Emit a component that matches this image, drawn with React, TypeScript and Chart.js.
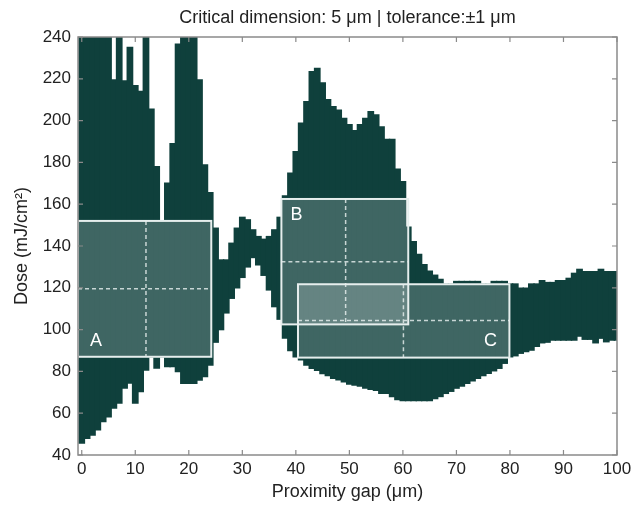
import { useEffect, useRef } from "react";
import { Chart, registerables } from "chart.js";

Chart.register(...registerables);

// Proximity gap (µm) – one column per micrometre
const proximityGap = [
  0, 1, 2, 3, 4, 5, 6, 7, 8, 9, 10, 11, 12, 13, 14, 15, 16, 17, 18, 19, 20,
  21, 22, 23, 24, 25, 26, 27, 28, 29, 30, 31, 32, 33, 34, 35, 36, 37, 38, 39, 40,
  41, 42, 43, 44, 45, 46, 47, 48, 49, 50, 51, 52, 53, 54, 55, 56, 57, 58, 59, 60,
  61, 62, 63, 64, 65, 66, 67, 68, 69, 70, 71, 72, 73, 74, 75, 76, 77, 78, 79, 80,
  81, 82, 83, 84, 85, 86, 87, 88, 89, 90, 91, 92, 93, 94, 95, 96, 97, 98, 99, 100,
];

// Lower dose limit of the process window (mJ/cm²)
const doseLower = [
  45.7, 48, 49.6, 52, 56, 58.3, 62.5, 64.9, 72, 74.4, 64.9, 70.3, 80.7, 87, 81.6, 87, 82.3, 82.3, 79.9, 74.3, 74.3,
  74.3, 75.9, 77.5, 83, 94, 100, 108, 115, 120, 125, 130, 134.5, 131, 126, 119, 111, 105, 96, 90, 87,
  85.5, 83, 81.5, 80.5, 79, 78, 76.7, 76, 75, 74, 73.5, 73, 72, 71.4, 71, 69.5, 69.5, 68, 66.5, 66,
  66, 66, 66, 66, 66, 67, 68, 69.5, 70.5, 72, 73, 74.3, 75.5, 76.7, 78, 79.1, 80.3, 81.5, 83.9, 87,
  87.5, 88.7, 89.5, 90.2, 92, 93.7, 94, 95, 95, 95, 95, 95, 96.9, 95.4, 95.4, 93.7, 95.9, 94.2, 95, 95,
];

// Upper dose limit of the process window (mJ/cm²)
const doseUpper = [
  245, 245, 245, 245, 245, 245, 219.4, 245, 219, 235, 216.7, 214, 245, 205.4, 178, 152, 170, 189, 236.6, 245, 245,
  245, 219.4, 178.8, 165.5, 148.5, 133.3, 133.3, 141.3, 148.5, 153.7, 152.5, 147.7, 144.5, 143.2, 144.5, 147.7, 153.7, 164, 174.8, 185.1,
  198.7, 209, 223.4, 225, 218, 210, 206.7, 205, 201, 198, 195.2, 198, 201, 204.3, 202.7, 197, 191, 191, 176.7, 170.8,
  149, 142, 136, 131, 128, 126, 124, 121.7, 121.7, 123, 123, 123, 123, 123, 121.7, 121.7, 123, 123, 123, 121.8,
  121.8, 119.8, 119.8, 121.8, 121.8, 123.4, 122.5, 122.5, 123.4, 123.4, 124.5, 126.9, 128.8, 127.7, 127.7, 127.7, 128.8, 127.7, 127.7, 127.7,
];

const xTickValues = [0, 10, 20, 30, 40, 50, 60, 70, 80, 90, 100];
const yTickValues = [40, 60, 80, 100, 120, 140, 160, 180, 200, 220, 240];

// Process windows A, B, C
const windowNames = ["A", "B", "C"];
const windowXMin = [-0.7, 37.3, 40.4];
const windowXMax = [24.2, 61.0, 79.9];
const windowXCenter = [12.0, 49.3, 60.1];
const windowYMin = [87, 102.5, 86.6];
const windowYMax = [152, 162.5, 121.7];
const windowYCenter = [119.5, 132.5, 104.4];

const FONT = "'Liberation Sans', Arial, Helvetica, sans-serif";
const TEXT = "#222222";
const FILL = "#0f403c";

// label placement style: corner of each window
const labelCorner = ["bottom-left", "top-left", "bottom-right"];

const overlayPlugin = {
  id: "overlay",
  afterDatasetsDraw(chart: any) {
    const { ctx, chartArea, scales } = chart;
    const xs = scales.x;
    const ys = scales.y;
    ctx.save();
    ctx.beginPath();
    ctx.rect(chartArea.left, chartArea.top, chartArea.right - chartArea.left, chartArea.bottom - chartArea.top);
    ctx.clip();
    const boxes = windowNames.map((_, i) => {
      const l = xs.getPixelForValue(windowXMin[i]);
      const r = xs.getPixelForValue(windowXMax[i]);
      const t = ys.getPixelForValue(windowYMax[i]);
      const b = ys.getPixelForValue(windowYMin[i]);
      const cx = xs.getPixelForValue(windowXCenter[i]);
      const cy = ys.getPixelForValue(windowYCenter[i]);
      return { l, r, t, b, cx, cy };
    });
    boxes.forEach((bx) => {
      ctx.fillStyle = "rgba(255,255,255,0.2)";
      ctx.fillRect(bx.l, bx.t, bx.r - bx.l, bx.b - bx.t);
    });
    boxes.forEach((bx) => {
      ctx.strokeStyle = "rgba(235,242,241,0.8)";
      ctx.lineWidth = 1.5;
      ctx.setLineDash([4, 3]);
      ctx.beginPath();
      ctx.moveTo(bx.cx, bx.t);
      ctx.lineTo(bx.cx, bx.b);
      ctx.moveTo(bx.l, bx.cy);
      ctx.lineTo(bx.r, bx.cy);
      ctx.stroke();
    });
    ctx.setLineDash([]);
    boxes.forEach((bx) => {
      ctx.strokeStyle = "#e6eeed";
      ctx.lineWidth = 2;
      ctx.strokeRect(bx.l, bx.t, bx.r - bx.l, bx.b - bx.t);
    });
    ctx.fillStyle = "#ffffff";
    ctx.font = `18px ${FONT}`;
    ctx.textAlign = "center";
    ctx.textBaseline = "middle";
    boxes.forEach((bx, i) => {
      const c = labelCorner[i];
      let x = bx.l + 18;
      let y = bx.b - 16;
      if (c === "top-left") {
        x = bx.l + 15;
        y = bx.t + 16;
      } else if (c === "bottom-right") {
        x = bx.r - 19;
        y = bx.b - 17;
      }
      ctx.fillText(windowNames[i], x, y);
    });
    ctx.restore();
  },
  afterDraw(chart: any) {
    const { ctx, chartArea, scales } = chart;
    const { left, right, top, bottom } = chartArea;
    ctx.save();
    ctx.strokeStyle = "#8a8a8a";
    ctx.lineWidth = 1.5;
    ctx.strokeRect(left, top, right - left, bottom - top);
    ctx.lineWidth = 1.2;
    const tl = 5;
    ctx.beginPath();
    xTickValues.forEach((v) => {
      const px = scales.x.getPixelForValue(v);
      ctx.moveTo(px, bottom);
      ctx.lineTo(px, bottom - tl);
      ctx.moveTo(px, top);
      ctx.lineTo(px, top + tl);
    });
    yTickValues.forEach((v) => {
      const py = scales.y.getPixelForValue(v);
      ctx.moveTo(left, py);
      ctx.lineTo(left + tl, py);
      ctx.moveTo(right, py);
      ctx.lineTo(right - tl, py);
    });
    ctx.stroke();
    ctx.fillStyle = TEXT;
    ctx.font = `18px ${FONT}`;
    ctx.textAlign = "center";
    ctx.textBaseline = "middle";
    ctx.fillText("Critical dimension: 5 μm | tolerance:±1 μm", (left + right) / 2, 18);
    ctx.restore();
  },
};

export default function App() {
  const canvasRef = useRef<HTMLCanvasElement | null>(null);

  useEffect(() => {
    const canvas = canvasRef.current;
    if (!canvas) return;
    const data = proximityGap.map((x, i) => ({ x, y: [doseLower[i], doseUpper[i]] }));
    const chart = new Chart(canvas, {
      type: "bar",
      data: {
        datasets: [
          {
            data: data as any,
            backgroundColor: FILL,
            borderWidth: 0,
            barPercentage: 1,
            categoryPercentage: 1,
            inflateAmount: 0.7,
          } as any,
        ],
      },
      options: {
        animation: false,
        responsive: false,
        devicePixelRatio: 1,
        layout: { padding: { top: 37, right: 14, left: 0, bottom: 0 } },
        plugins: {
          legend: { display: false },
          tooltip: { enabled: false },
          title: { display: false },
        },
        scales: {
          x: {
            type: "linear",
            min: -0.7,
            max: 100,
            offset: false,
            grid: { display: false, drawTicks: false },
            border: { display: false },
            afterBuildTicks: (s: any) => {
              s.ticks = xTickValues.map((v) => ({ value: v }));
            },
            ticks: {
              autoSkip: false,
              maxRotation: 0,
              padding: 4,
              color: TEXT,
              font: { family: FONT, size: 17 },
            },
            title: {
              display: true,
              text: "Proximity gap (μm)",
              color: TEXT,
              font: { family: FONT, size: 18 },
              padding: { top: 0, bottom: 2 },
            },
            afterFit: (s: any) => {
              s.height = 50;
              s.paddingLeft = 0;
              s.paddingRight = 0;
            },
          } as any,
          y: {
            type: "linear",
            min: 40,
            max: 240,
            grid: { display: false, drawTicks: false },
            border: { display: false },
            afterBuildTicks: (s: any) => {
              s.ticks = yTickValues.map((v) => ({ value: v }));
            },
            ticks: {
              autoSkip: false,
              padding: 7,
              color: TEXT,
              font: { family: FONT, size: 17 },
            },
            title: {
              display: true,
              text: "Dose (mJ/cm²)",
              color: TEXT,
              font: { family: FONT, size: 18 },
              padding: { top: 11, bottom: 0 },
            },
            afterFit: (s: any) => {
              s.width = 78;
              s.paddingTop = 0;
              s.paddingBottom = 0;
            },
          } as any,
        },
      },
      plugins: [overlayPlugin],
    });
    return () => chart.destroy();
  }, []);

  return (
    <div style={{ position: "fixed", left: 0, top: 0, width: 631, height: 505, background: "#ffffff" }}>
      <canvas ref={canvasRef} width={631} height={505} style={{ display: "block", width: 631, height: 505 }} />
    </div>
  );
}
